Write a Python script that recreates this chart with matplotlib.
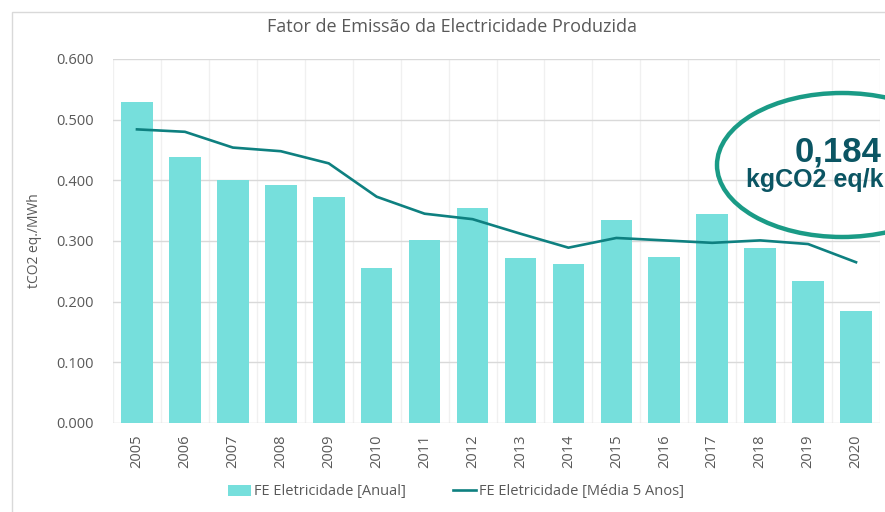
import matplotlib.pyplot as plt
import numpy as np
from matplotlib.patches import Ellipse, Rectangle

years = ["2005", "2006", "2007", "2008", "2009", "2010", "2011", "2012",
         "2013", "2014", "2015", "2016", "2017", "2018", "2019", "2020"]
fe_anual = [0.529, 0.438, 0.400, 0.393, 0.373, 0.256, 0.302, 0.355,
            0.272, 0.262, 0.334, 0.274, 0.344, 0.288, 0.234, 0.184]
fe_media5 = [0.484, 0.480, 0.454, 0.448, 0.428, 0.373, 0.345, 0.336,
             0.312, 0.289, 0.305, 0.301, 0.297, 0.301, 0.295, 0.265]

plt.rcParams['font.family'] = ['Open Sans', 'DejaVu Sans']
grey = '#595959'

fig = plt.figure(figsize=(8.85, 5.12), dpi=100)
# light chart frame
fig.patches.append(Rectangle((12/885, -0.01), 1.0, 1 - 12/512 + 0.01,
                             transform=fig.transFigure, fill=False,
                             edgecolor='#d9d9d9', lw=1))
ax = fig.add_axes([113/885, 1 - 423/512, 767/885, 364/512])

x = np.arange(len(years))
bars = ax.bar(x, fe_anual, width=0.66, color='#76dfdc', zorder=2,
              label='FE Eletricidade [Anual]')
line, = ax.plot(x, fe_media5, color='#0e8080', lw=1.9, zorder=3,
                label='FE Eletricidade [Média 5 Anos]')

ax.set_xlim(-0.5, len(years) - 0.5)
ax.set_ylim(0, 0.6)
ax.set_yticks(np.arange(0, 0.61, 0.1))
ax.set_yticklabels([f"{v:.3f}" for v in np.arange(0, 0.61, 0.1)])
ax.set_xticks(x)
ax.set_xticklabels(years, rotation=90)
ax.set_xticks(np.arange(-0.5, len(years), 0.5), minor=True)
ax.grid(axis='x', which='minor', color='#f0f0f0', lw=1, zorder=0)
ax.grid(axis='y', which='major', color='#d9d9d9', lw=1, zorder=0)
ax.tick_params(length=0, colors=grey, labelsize=10.5)
ax.tick_params(axis='y', pad=14)
ax.tick_params(axis='x', pad=8)
ax.tick_params(axis='x', which='minor', length=0)
for s in ax.spines.values():
    s.set_visible(False)
ax.set_ylabel('tCO2 eq./MWh', color=grey, fontsize=10, labelpad=10)

fig.text(452/885, 1 - 27/512, 'Fator de Emissão da Electricidade Produzida',
         ha='center', va='center', color=grey, fontsize=13)

ax.legend([bars, line], [bars.get_label(), line.get_label()],
          loc='center', bbox_to_anchor=(456/885, 1 - 492/512),
          bbox_transform=fig.transFigure, ncol=2, frameon=False,
          fontsize=10.5, labelcolor=grey, handlelength=1.6,
          handletextpad=0.2, columnspacing=3.2)

# callout ellipse
ell = Ellipse((842/885, 1 - 165/512), 250/885, 144/512,
              transform=fig.transFigure, fill=False,
              edgecolor='#1a9b86', lw=3.2, zorder=5)
fig.patches.append(ell)
fig.text(838/885, 1 - 152/512, '0,184', ha='center', va='center',
         family='Liberation Sans', weight='bold', fontsize=25,
         color='#0b5563')
fig.text(884/885, 1 - 180/512, 'kgCO2 eq/k', ha='right', va='center',
         family='Liberation Sans', weight='bold', fontsize=18,
         color='#0b5563')

fig.savefig('out.png', dpi=100)
